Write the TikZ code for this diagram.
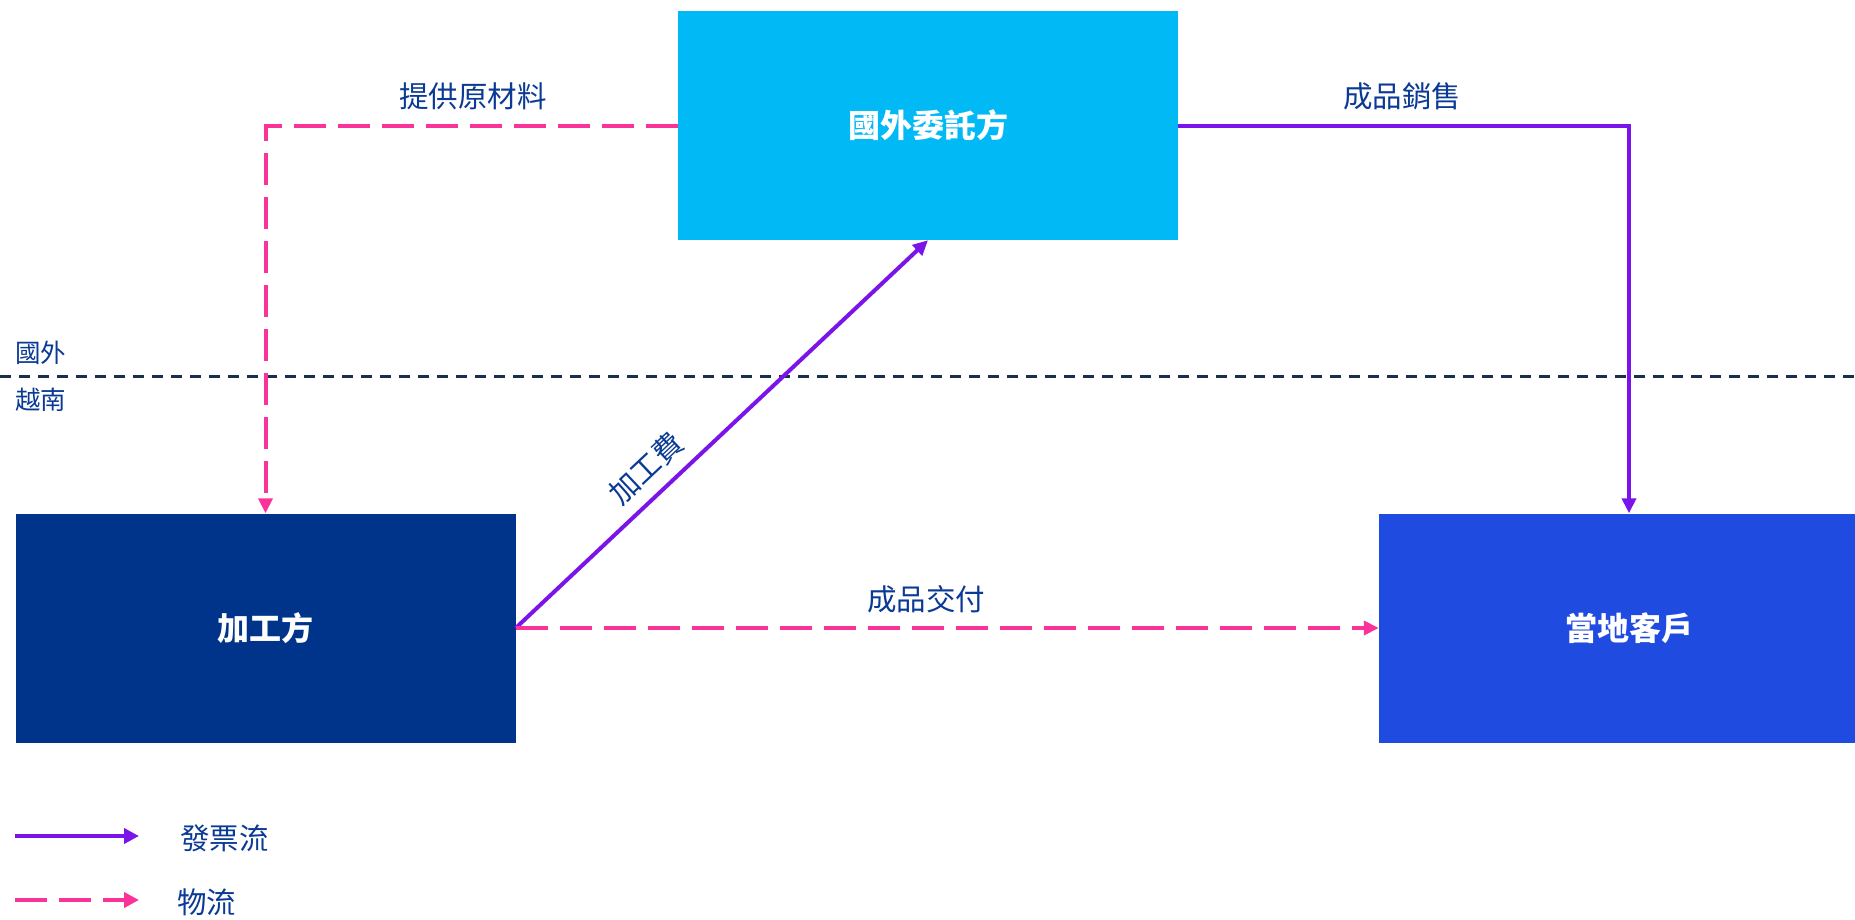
\documentclass[tikz,border=0pt]{standalone}
\usepackage{fontspec}
\setmainfont{Noto Sans CJK TC}
\usetikzlibrary{arrows.meta}
\definecolor{txtblue}{HTML}{0B3A94}
\definecolor{boxtop}{HTML}{00B9F5}
\definecolor{boxleft}{HTML}{00338A}
\definecolor{boxright}{HTML}{1F4BE0}
\definecolor{invoice}{HTML}{7A14E8}
\definecolor{goods}{HTML}{FA3399}
\definecolor{divider}{HTML}{1A2E4F}
\tikzset{
  box/.style={draw=none, minimum width=500pt, minimum height=229pt, inner sep=0pt,
    text=white, font=\fontsize{32}{36}\selectfont\bfseries},
  lbl/.style={text=txtblue, font=\fontsize{29.5}{34}\selectfont, inner sep=0pt},
  small/.style={text=txtblue, font=\fontsize{25.5}{30}\selectfont, inner sep=0pt},
  invflow/.style={draw=invoice, line width=4pt, -{Triangle[length=15pt,width=14pt]}},
  goodsflow/.style={draw=goods, line width=4pt, dash pattern=on 32pt off 12pt,
    -{Triangle[length=15pt,width=14pt]}},
}
\begin{document}
\begin{tikzpicture}[x=1pt,y=-1pt]
\useasboundingbox (0,0) rectangle (1855,919);
\clip (0,0) rectangle (1855,919);
% divider
\draw[divider, line width=3pt, dash pattern=on 11pt off 8pt] (0,376) -- (1855,376);
\node[small, anchor=west] (abroad) at (15,353) {國外};
\node[small, anchor=west] (vn) at (15,400) {越南};
% boxes
\node[box, fill=boxtop] (top) at (928,125.5) {國外委託方};
\node[box, fill=boxleft] (left) at (265.5,628) {加工方};
\node[box, fill=boxright] (right) at (1629,628) {當地客戶};
% connectors
\draw[goodsflow] (top.west) -| (left.north);
\draw[invflow] (top.east) -| (right.north);
\draw[invflow] (left.east) -- (top.south);
\draw[goodsflow] (left.east) -- (right.west);
% labels
\node[lbl] (l1) at (473,96) {提供原材料};
\node[lbl] (l2) at (1402,96) {成品銷售};
\node[lbl] (l3) at (926,599) {成品交付};
\node[lbl, rotate=43.3] (l4) at (646,468) {加工費};
% legend
\coordinate (la1) at (15,836);
\coordinate (lb1) at (139,836);
\draw[invflow, -{Triangle[length=15pt,width=15pt]}] (la1) -- (lb1);
\node[lbl, anchor=west] (lg1) at (180,838) {發票流};
\coordinate (la2) at (15,900);
\coordinate (lb2) at (139,900);
\draw[goodsflow, -{Triangle[length=15pt,width=15pt]}] (la2) -- (lb2);
\node[lbl, anchor=west] (lg2) at (177,902) {物流};
\end{tikzpicture}
\end{document}
